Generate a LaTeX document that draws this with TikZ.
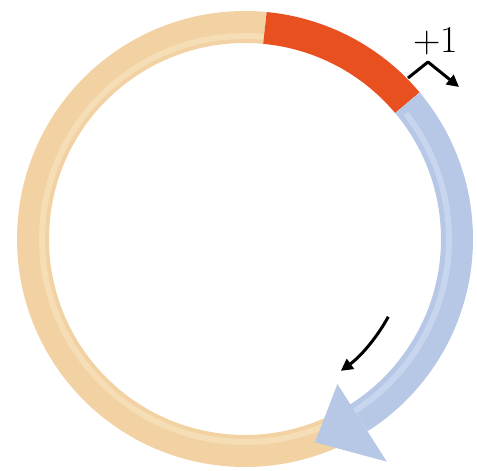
\documentclass[tikz,border=0pt]{standalone}
\usetikzlibrary{arrows.meta}
\definecolor{tanc}{HTML}{F2D2A2}
\definecolor{tanlight}{HTML}{F5DDB6}
\definecolor{redc}{HTML}{E8501F}
\definecolor{bluec}{HTML}{B7C7E6}
\definecolor{bluelight}{HTML}{C8D5EE}
\tikzset{
  band/.style={line width=32pt, line cap=butt},
  stripe/.style={line width=6pt, line cap=butt},
  blackarrow/.style={line width=3pt, -{Triangle[length=12pt,width=12pt]}},
}
\begin{document}
\begin{tikzpicture}[x=1pt,y=1pt]
\useasboundingbox (0,0) rectangle (477,471);
\coordinate (c) at (245,232);
% tan part of the ring
\draw[band, tanc] ([shift={(c)}]84.6:212) arc[start angle=84.6, end angle=294, radius=212];
\draw[stripe, tanlight] ([shift={(c)}]84.6:203) arc[start angle=84.6, end angle=294, radius=203];
% red segment
\draw[band, redc] ([shift={(c)}]40:212) arc[start angle=40, end angle=84.6, radius=212];
% blue arrow
\draw[band, bluec] ([shift={(c)}]40:212) arc[start angle=40, end angle=-57.5, radius=212];
\draw[stripe, bluelight] ([shift={(c)}]38:204) arc[start angle=38, end angle=-57.5, radius=204];
\fill[bluec] ([shift={(c)}]-57.5:172) -- ([shift={(c)}]-71:215) -- ([shift={(c)}]-57.5:264) -- cycle;
% +1 marker
\coordinate (m0) at (408,393);
\coordinate (m1) at (428,409);
\coordinate (m2) at (459,384);
\draw[blackarrow, line join=round] (m0) -- (m1) -- (m2);
\node[font=\fontsize{38}{38}\selectfont, inner sep=0pt] (plus) at (436,430) {+1};
% inner direction arrow
\draw[blackarrow] ([shift={(c)}]-28.5:163) arc[start angle=-28.5, end angle=-54, radius=163];
\end{tikzpicture}
\end{document}
